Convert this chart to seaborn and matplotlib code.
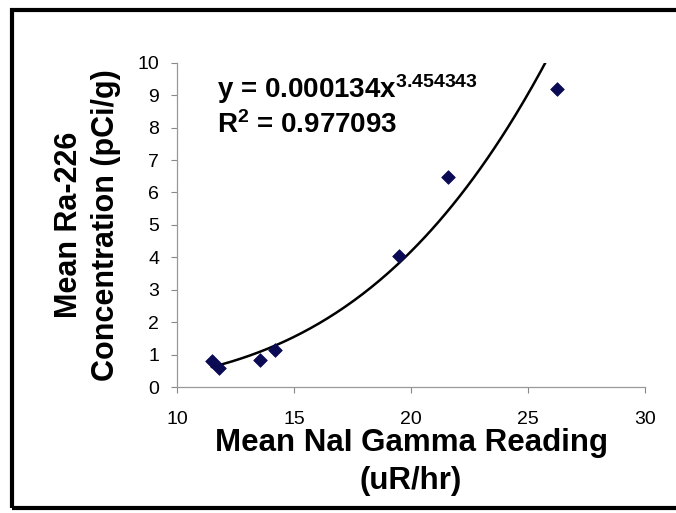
import numpy as np
import pandas as pd
import matplotlib.pyplot as plt
import seaborn as sns
from matplotlib.patches import Rectangle

sns.set_theme(style="white")
plt.rcParams["font.family"] = ["Liberation Sans", "DejaVu Sans"]
plt.rcParams["mathtext.default"] = "regular"
plt.rcParams["text.color"] = "black"
plt.rcParams["axes.labelcolor"] = "black"
plt.rcParams["xtick.labelcolor"] = "black"
plt.rcParams["ytick.labelcolor"] = "black"

# values
gamma_reading = [11.48, 11.79, 13.55, 14.19, 19.49, 21.58, 26.23]
ra226_conc = [0.80, 0.60, 0.83, 1.14, 4.05, 6.47, 9.19]

# power trendline as shown on the chart
coef_a = 0.000134
coef_b = 3.454343
r_squared = 0.977093

x_ticks = [10, 15, 20, 25, 30]
y_ticks = list(range(0, 11))

df = pd.DataFrame({"gamma": gamma_reading, "ra226": ra226_conc})

fig = plt.figure(figsize=(6.76, 5.13), dpi=100)
ax = fig.add_axes([0.262, 0.2456, 0.692, 0.632])

# trendline over the data range
xs = np.linspace(min(gamma_reading), max(gamma_reading), 200)
ys = coef_a * xs ** coef_b
ax.plot(xs, ys, color="black", lw=1.8, zorder=2)

sns.scatterplot(data=df, x="gamma", y="ra226", marker="D", s=48,
                color="#0a0a55", edgecolor="#0a0a55", ax=ax, zorder=3)

ax.set_xlim(10, 30)
ax.set_ylim(0, 10)
ax.set_xticks(x_ticks)
ax.set_yticks(y_ticks)
ax.tick_params(axis="both", direction="out", length=4, width=0.8,
               color="#888888", labelsize=14, left=True, bottom=True)
ax.tick_params(axis="y", pad=9)
ax.tick_params(axis="x", pad=13)

for side in ["top", "right"]:
    ax.spines[side].set_visible(False)
for side in ["left", "bottom"]:
    ax.spines[side].set_color("#999999")
    ax.spines[side].set_linewidth(0.9)

ax.set_xlabel("Mean NaI Gamma Reading\n(uR/hr)", fontsize=22.5, fontweight="bold",
              labelpad=0, linespacing=1.38)
ax.set_ylabel("Mean Ra-226\nConcentration (pCi/g)", fontsize=22, fontweight="bold",
              labelpad=12, linespacing=1.3)

ax.text(11.7, 9.2, f"y = {coef_a:.6f}x$^{{{coef_b:.6f}}}$", fontsize=20,
        fontweight="bold", ha="left", va="center")
ax.text(11.7, 8.07, f"R$^{{2}}$ = {r_squared:.6f}", fontsize=20,
        fontweight="bold", ha="left", va="center")

# outer frame of the chart area
frame = Rectangle((0.018, 0.01), 1.1, 0.97, transform=fig.transFigure,
                  fill=False, edgecolor="black", linewidth=3, clip_on=False)
fig.patches.append(frame)

fig.savefig("out.png", dpi=100)
